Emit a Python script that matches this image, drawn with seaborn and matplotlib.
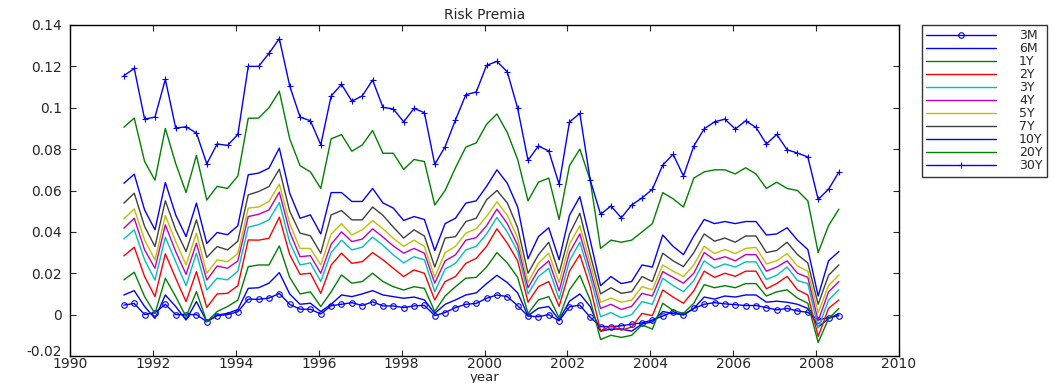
import numpy as np
import pandas as pd
from matplotlib import pyplot as plt
from matplotlib.transforms import ScaledTranslation
import seaborn as sns

# quarterly observation dates (decimal years)
dates = np.linspace(1991.3, 2008.55, 70)

labels = ['3M', '6M', '1Y', '2Y', '3Y', '4Y', '5Y', '7Y', '10Y', '20Y', '30Y']

rp_3m = [.0046, .0054, .0000, .0010, .0050, .0000, .0000, .0000, -.0034, -.0005, .0000, .0014,
         .0075, .0074, .0080, .0102, .0050, .0026, .0026, .0003, .0043, .0050, .0058,
         .0044, .0062, .0042, .0042, .0034, .0042, .0045, -.0005, .0010, .0034, .0050, .0054,
         .0079, .0095, .0087, .0043, -.0007, -.0010, .0000, -.0030, .0038, .0046, -.0013,
         -.0058, -.0058, -.0054, -.0046, -.0040, -.0026, -.0007, .0014, -.0002, .0030, .0050, .0058,
         .0052, .0048, .0044, .0044, .0034, .0023, .0030, .0018, .0011, -.0025, -.0015, -.0005]
rp_6m = [.0095, .0116, .0039, -.0018, .0095, .0039, -.0026, .0063, -.0034, -.0002, .0006, .0025,
         .0127, .0130, .0152, .0203, .0100, .0050, .0055, .0015, .0050, .0095, .0087,
         .0100, .0116, .0095, .0087, .0079, .0085, .0071, .0006, .0050, .0071, .0095, .0105,
         .0150, .0190, .0155, .0105, -.0005, .0031, .0039, -.0025, .0065, .0100, .0039,
         -.0080, -.0070, -.0070, -.0080, -.0045, -.0035, .0015, .0005, .0000, .0030, .0085, .0075,
         .0090, .0085, .0095, .0095, .0060, .0065, .0060, .0050, .0030, -.0060, -.0020, .0006]
rp_1y = [.0168, .0205, .0087, .0005, .0176, .0087, -.0010, .0111, -.0034, .0015, .0039, .0070,
         .0232, .0240, .0240, .0332, .0180, .0100, .0110, .0039, .0110, .0192, .0152,
         .0160, .0200, .0160, .0135, .0119, .0135, .0127, .0015, .0090, .0135, .0176, .0180,
         .0230, .0300, .0250, .0180, .0005, .0071, .0087, -.0015, .0120, .0190, .0071,
         -.0120, -.0100, -.0110, -.0100, -.0050, -.0070, .0055, .0020, .0006, .0055, .0145, .0130,
         .0140, .0130, .0150, .0150, .0090, .0110, .0120, .0080, .0055, -.0135, -.0020, .0030]
rp_2y = [.0284, .0326, .0184, .0087, .0294, .0176, .0063, .0208, .0035, .0100, .0103, .0140,
         .0361, .0360, .0369, .0471, .0290, .0195, .0200, .0103, .0240, .0297, .0248,
         .0256, .0300, .0265, .0224, .0184, .0216, .0200, .0071, .0160, .0184, .0248, .0272,
         .0330, .0415, .0345, .0260, .0060, .0135, .0160, .0040, .0210, .0290, .0135,
         -.0080, -.0055, -.0075, -.0060, .0006, -.0005, .0119, .0085, .0055, .0115, .0210, .0180,
         .0200, .0185, .0210, .0210, .0125, .0150, .0185, .0120, .0095, -.0105, .0030, .0071]
rp_3y = [.0366, .0410, .0265, .0167, .0374, .0256, .0140, .0297, .0119, .0176, .0168, .0210,
         .0423, .0435, .0458, .0542, .0350, .0240, .0250, .0160, .0300, .0360, .0313,
         .0326, .0375, .0335, .0289, .0250, .0280, .0265, .0111, .0220, .0248, .0313, .0330,
         .0390, .0470, .0400, .0305, .0100, .0184, .0224, .0075, .0260, .0350, .0184,
         -.0010, .0010, -.0015, .0000, .0063, .0050, .0176, .0140, .0111, .0165, .0260, .0225,
         .0245, .0230, .0255, .0255, .0170, .0190, .0230, .0165, .0150, -.0065, .0070, .0120]
rp_4y = [.0418, .0466, .0313, .0224, .0434, .0305, .0195, .0345, .0167, .0235, .0224, .0260,
         .0474, .0485, .0506, .0592, .0400, .0280, .0285, .0200, .0340, .0400, .0353,
         .0365, .0415, .0375, .0332, .0297, .0320, .0297, .0152, .0260, .0289, .0360, .0372,
         .0430, .0510, .0440, .0335, .0130, .0216, .0260, .0115, .0300, .0390, .0216,
         .0030, .0050, .0025, .0040, .0103, .0090, .0208, .0180, .0152, .0200, .0300, .0265,
         .0280, .0260, .0290, .0290, .0210, .0230, .0260, .0200, .0180, -.0030, .0110, .0160]
rp_5y = [.0463, .0511, .0361, .0264, .0479, .0353, .0240, .0394, .0200, .0265, .0256, .0295,
         .0515, .0520, .0547, .0631, .0440, .0320, .0320, .0240, .0390, .0440, .0385,
         .0410, .0455, .0415, .0369, .0330, .0360, .0330, .0180, .0300, .0330, .0394, .0415,
         .0475, .0545, .0480, .0370, .0155, .0248, .0297, .0155, .0340, .0430, .0250,
         .0060, .0080, .0060, .0070, .0135, .0120, .0240, .0210, .0184, .0240, .0330, .0295,
         .0315, .0295, .0320, .0325, .0245, .0260, .0295, .0235, .0210, .0010, .0140, .0192]
rp_7y = [.0539, .0587, .0426, .0329, .0550, .0410, .0305, .0458, .0277, .0329, .0313, .0355,
         .0579, .0595, .0619, .0703, .0500, .0394, .0381, .0297, .0482, .0503, .0458,
         .0458, .0520, .0480, .0423, .0370, .0410, .0380, .0230, .0370, .0377, .0450, .0466,
         .0555, .0600, .0540, .0420, .0200, .0289, .0350, .0200, .0390, .0490, .0290,
         .0100, .0130, .0103, .0111, .0184, .0160, .0297, .0260, .0232, .0300, .0390, .0355,
         .0370, .0350, .0380, .0380, .0300, .0310, .0350, .0290, .0250, .0050, .0190, .0240]
rp_10y = [.0635, .0679, .0506, .0410, .0639, .0482, .0377, .0539, .0344, .0397, .0386, .0430,
          .0676, .0684, .0708, .0805, .0587, .0466, .0482, .0390, .0590, .0590, .0547,
          .0547, .0610, .0540, .0515, .0455, .0474, .0460, .0310, .0440, .0466, .0539, .0550,
          .0620, .0700, .0635, .0520, .0270, .0377, .0420, .0265, .0480, .0570, .0360,
          .0140, .0184, .0150, .0160, .0240, .0230, .0385, .0330, .0290, .0380, .0460, .0440,
          .0450, .0440, .0450, .0450, .0385, .0390, .0420, .0360, .0315, .0090, .0260, .0305]
rp_20y = [.0906, .0950, .0740, .0650, .0900, .0730, .0590, .0770, .0554, .0620, .0610, .0670,
          .0949, .0950, .1000, .1080, .0850, .0720, .0690, .0610, .0850, .0870, .0790,
          .0820, .0890, .0780, .0780, .0702, .0750, .0740, .0530, .0600, .0710, .0810, .0830,
          .0920, .0970, .0880, .0750, .0550, .0640, .0660, .0460, .0720, .0800, .0650,
          .0320, .0360, .0350, .0360, .0400, .0440, .0590, .0560, .0520, .0660, .0690, .0700,
          .0700, .0680, .0710, .0680, .0610, .0640, .0610, .0600, .0550, .0300, .0430, .0510]
rp_30y = [.1155, .1190, .0945, .0955, .1137, .0902, .0908, .0878, .0729, .0825, .0818, .0871,
          .1200, .1200, .1263, .1334, .1106, .0955, .0937, .0821, .1057, .1113, .1032,
          .1057, .1134, .1002, .0994, .0932, .0997, .0976, .0726, .0812, .0941, .1063, .1076,
          .1205, .1224, .1173, .0997, .0746, .0815, .0791, .0630, .0931, .0973, .0651,
          .0485, .0525, .0468, .0530, .0564, .0606, .0723, .0775, .0670, .0815, .0898, .0932,
          .0945, .0897, .0937, .0905, .0825, .0871, .0797, .0781, .0762, .0557, .0606, .0689]

series = [rp_3m, rp_6m, rp_1y, rp_2y, rp_3y, rp_4y, rp_5y, rp_7y, rp_10y, rp_20y, rp_30y]
colors = ['#0000ff', '#0000ff', '#008000', '#ff0000', '#00bfbf', '#bf00bf',
          '#bfbf00', '#404040', '#0000ff', '#008000', '#0000ff']
markers = {'3M': 'o', '30Y': '+'}

sns.set_style('ticks')
plt.rcParams['font.family'] = ['DejaVu Sans']

fig = plt.figure(figsize=(10.52, 3.83), dpi=100)
ax = fig.add_axes([70 / 1052, 1 - 356 / 383, 829 / 1052, 331 / 383])

for lab, vals, col in zip(labels, series, colors):
    mk = markers.get(lab)
    sns.lineplot(x=dates, y=vals, ax=ax, color=col, label=lab, linewidth=1.0,
                 marker=mk, markersize=4 if mk == 'o' else 5,
                 markerfacecolor='none' if mk == 'o' else col,
                 markeredgecolor=col, markeredgewidth=0.8)

ax.set_xlim(1990, 2010)
ax.set_ylim(-0.02, 0.14)
ax.set_xticks(range(1990, 2011, 2))
yt = [-0.02, 0, 0.02, 0.04, 0.06, 0.08, 0.1, 0.12, 0.14]
ax.set_yticks(yt)
ax.set_yticklabels(['-0.02', '0', '0.02', '0.04', '0.06', '0.08', '0.1', '0.12', '0.14'])
ax.tick_params(direction='in', top=True, right=True, labelsize=10, length=4, width=0.8)
ax.tick_params(axis='x', pad=1)
ax.tick_params(axis='y', pad=6)
# lift the lowest y label a little, as in the original
low = ax.get_yticklabels()[0]
low.set_transform(low.get_transform() + ScaledTranslation(0, 5 / 100, fig.dpi_scale_trans))
for sp in ax.spines.values():
    sp.set_visible(True)
    sp.set_linewidth(1.0)
    sp.set_color('black')
ax.set_xlabel('year', fontsize=9.5, labelpad=0)
ax.set_ylabel('')
ax.set_title('Risk Premia', fontsize=10, pad=4)

leg = ax.legend(loc='upper left', bbox_to_anchor=(922 / 1052, 1 - 25 / 383),
                bbox_transform=fig.transFigure, fontsize=9, frameon=True,
                fancybox=False, edgecolor='black', labelspacing=0.0,
                handlelength=5.6, handletextpad=1.8, borderpad=0.35, borderaxespad=0)
leg.get_frame().set_linewidth(1.0)

fig.savefig('out.png', dpi=100)
